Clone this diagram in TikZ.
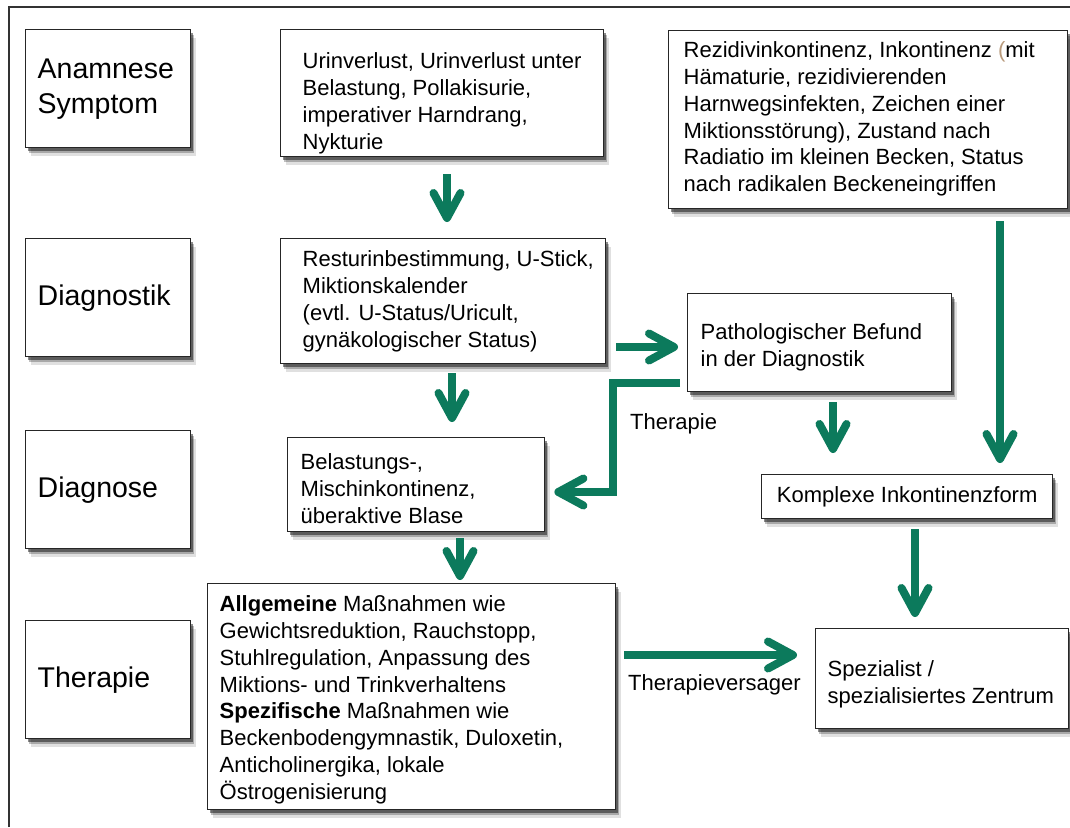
\documentclass[tikz,border=0pt]{standalone}
\usepackage{fontspec}
\setmainfont{Liberation Sans}
\usetikzlibrary{arrows.meta,shadows,calc}
\definecolor{arrgreen}{RGB}{12,122,92}
\definecolor{parcol}{RGB}{185,155,125}
\newcommand{\btext}[5]{\parbox[c][#1pt][t]{#2pt}{\raggedright\leftskip=#4pt\relax\vspace*{#3pt}\rule{0pt}{17pt}#5}}
\tikzset{
  box/.style={draw=black!85, line width=1.4pt, fill=white, inner sep=0pt, anchor=north west,
    font=\fontsize{22}{26.8}\selectfont,
    drop shadow={shadow xshift=5pt, shadow yshift=-8pt, opacity=0.12, fill=black},
    drop shadow={shadow xshift=3.5pt, shadow yshift=-5.5pt, opacity=0.25, fill=black},
    drop shadow={shadow xshift=2pt, shadow yshift=-3pt, opacity=0.45, fill=black}},
  stage/.style={box, text width=141pt, inner xsep=12pt, inner ysep=0pt, align=left,
    minimum height=118pt, font=\fontsize{28.5}{35}\selectfont},
  arr/.style={draw=arrgreen, line width=8pt, line join=miter,
    -{Straight Barb[length=25pt, width=27pt, round]}},
  lbl/.style={font=\fontsize{22}{26.8}\selectfont, inner sep=0pt, anchor=base west},
  frame/.style={draw=black!80, line width=1.2pt}
}
\begin{document}
\begin{tikzpicture}[x=1pt, y=-1pt]
\useasboundingbox (0,0) rectangle (1070,827);
\draw[frame] (9,827) -- (9,7) -- (1070,7);

% left column stages
\node[stage] (S1) at (25,29) {Anamnese\\Symptom};
\node[stage] (S2) at (25,238) {Diagnostik};
\node[stage] (S3) at (25,430) {Diagnose};
\node[stage] (S4) at (25,620) {Therapie};

% middle column
\node[box] (M1) at (280,29) {\btext{127}{323}{22}{22}{Urinverlust, Urinverlust unter\\Belastung, Pollakisurie,\\imperativer Harndrang,\\Nykturie}};
\node[box] (M2) at (280,238) {\btext{125}{325}{11}{22}{Resturinbestimmung, U-Stick,\\Miktionskalender\\(evtl. U-Status/Uricult,\\gynäkologischer Status)}};
\node[box] (M3) at (287,437) {\btext{94}{257}{15}{13}{Belastungs-,\\Mischinkontinenz,\\überaktive Blase}};
\node[box] (M4) at (207,583) {\btext{226}{408}{11}{12}{\textbf{Allgemeine} Maßnahmen wie\\Gewichtsreduktion, Rauchstopp,\\Stuhlregulation, Anpassung des\\Miktions- und Trinkverhaltens\\\textbf{Spezifische} Maßnahmen wie\\Beckenbodengymnastik, Duloxetin,\\Anticholinergika, lokale\\Östrogenisierung}};

% right column
\node[box] (R1) at (668,30) {\btext{178}{399}{10}{15}{Rezidivinkontinenz, Inkontinenz {\color{parcol}(}mit\\Hämaturie, rezidivierenden\\Harnwegsinfekten, Zeichen einer\\Miktionsstörung), Zustand nach\\Radiatio im kleinen Becken, Status\\nach radikalen Beckeneingriffen}};
\node[box] (R2) at (687,293) {\btext{98}{264}{29}{13}{Pathologischer Befund\\in der Diagnostik}};
\node[box, minimum width=291pt, minimum height=44pt] (R3) at (761,474) {Komplexe Inkontinenzform};
\node[box] (R4) at (815,628) {\btext{100}{253}{31}{12}{Spezialist /\\spezialisiertes Zentrum}};

% labels
\node[lbl] (L1) at (630,429) {Therapie};
\node[lbl] (L2) at (628,690) {Therapieversager};

% helper coordinates
\coordinate (xa) at (447,0);
\coordinate (xb) at (452,0);
\coordinate (xc) at (460,0);
\coordinate (xd) at (833,0);
\coordinate (xe) at (1000,0);
\coordinate (xf) at (915,0);
\coordinate (ya) at (0,347);
\coordinate (yb) at (0,655);
\coordinate (c1) at (613,383);
\coordinate (c2) at (613,492);

% connectors
\draw[arr, shorten <=17pt, shorten >=16pt] (M1.south -| xa) -- (M2.north -| xa);
\draw[arr, shorten <=9pt, shorten >=15pt] (M2.south -| xb) -- (M3.north -| xb);
\draw[arr, shorten <=6pt, shorten >=3pt] (M3.south -| xc) -- (M4.north -| xc);
\draw[arr, shorten <=10pt, shorten >=9pt] (M2.east |- ya) -- (R2.west |- ya);
\draw[arr, shorten <=7pt, shorten >=9pt] (R2.west |- c1) -- (c1) -- (c2) -- (M3.east |- c2);
\draw[arr, shorten <=10pt, shorten >=21pt] (R2.south -| xd) -- (R3.north -| xd);
\draw[arr, shorten <=12pt, shorten >=11pt] (R1.south -| xe) -- (R3.north -| xe);
\draw[arr, shorten <=10pt, shorten >=11pt] (R3.south -| xf) -- (R4.north -| xf);
\draw[arr, shorten <=8pt, shorten >=18pt] (M4.east |- yb) -- (R4.west |- yb);
\end{tikzpicture}
\end{document}
